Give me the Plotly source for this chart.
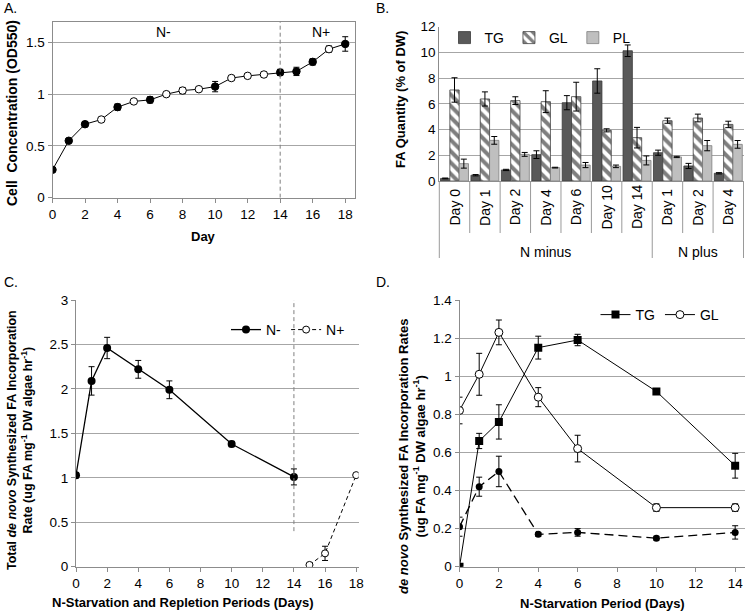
import plotly.graph_objects as go

# ---------------- Data ----------------
# Panel A: cell concentration
a_day = list(range(19))
a_od = [0.27, 0.55, 0.71, 0.755, 0.875, 0.93, 0.945, 1.0, 1.035, 1.048, 1.073,
        1.156, 1.177, 1.19, 1.21, 1.22, 1.312, 1.435, 1.485]
a_err = [0.01, 0.01, 0.025, 0.015, 0.03, 0.015, 0.03, 0.015, 0.03, 0.02, 0.05,
         0.02, 0.02, 0.025, 0.03, 0.04, 0.03, 0.03, 0.07]
a_filled = [1, 1, 1, 0, 1, 0, 1, 0, 0, 0, 1, 0, 0, 0, 1, 1, 1, 0, 1]

# Panel B: FA quantity
b_days = ["Day 0", "Day 1", "Day 2", "Day 4", "Day 6", "Day 10", "Day 14",
          "Day 1", "Day 2", "Day 4"]
b_groups = ["N minus"] * 7 + ["N plus"] * 3
b_tg = [0.2, 0.45, 0.86, 2.05, 6.09, 7.78, 10.13, 2.2, 1.17, 0.6]
b_tg_err = [0.03, 0.05, 0.05, 0.3, 0.55, 0.95, 0.45, 0.2, 0.2, 0.05]
b_gl = [7.08, 6.38, 6.25, 6.17, 6.56, 3.94, 3.37, 4.69, 4.9, 4.4]
b_gl_err = [0.95, 0.55, 0.3, 0.85, 1.12, 0.12, 0.8, 0.2, 0.3, 0.25]
b_pl = [1.35, 3.16, 2.07, 1.04, 1.24, 1.14, 1.6, 1.87, 2.75, 2.85]
b_pl_err = [0.35, 0.3, 0.15, 0.03, 0.2, 0.1, 0.35, 0.05, 0.4, 0.3]

# Panel C: total de novo FA incorporation
c_minus_day = [0, 1, 2, 4, 6, 10, 14]
c_minus = [1.03, 2.09, 2.46, 2.22, 1.99, 1.38, 1.01]
c_minus_err = [0.03, 0.16, 0.12, 0.1, 0.1, 0.03, 0.09]
c_plus_day = [15, 16, 18]
c_plus = [0.02, 0.15, 1.03]
c_plus_err = [0.01, 0.08, 0.01]

# Panel D: de novo FA incorporation by class
d_day = [0, 1, 2, 4, 6, 10, 14]
d_tg = [0.0, 0.66, 0.76, 1.15, 1.19, 0.92, 0.53]
d_tg_err = [0.0, 0.04, 0.09, 0.06, 0.03, 0.015, 0.065]
d_gl = [0.82, 1.01, 1.23, 0.89, 0.62, 0.31, 0.31]
d_gl_err = [0.07, 0.11, 0.065, 0.05, 0.07, 0.02, 0.02]
d_pl = [0.21, 0.42, 0.50, 0.17, 0.18, 0.15, 0.18]
d_pl_err = [0.05, 0.05, 0.08, 0.01, 0.02, 0.01, 0.035]

# ---------------- Layout helpers ----------------
W, H = 745, 615
FONT = "Liberation Sans, Arial, sans-serif"
GRID = "#a6a6a6"
AXL = "#8c8c8c"


def px(x):
    return x / W


def py(y):
    return 1 - y / H


def err(arr):
    return dict(type="data", array=arr, color="black", thickness=1, width=3)


fig = go.Figure()

# Panel A
fig.add_trace(go.Scatter(
    x=a_day, y=a_od, mode="lines+markers", xaxis="x", yaxis="y",
    line=dict(color="black", width=1),
    marker=dict(symbol="circle", size=7.5,
                color=["black" if f else "white" for f in a_filled],
                line=dict(color="black", width=1)),
    error_y=err(a_err), showlegend=False))

# Panel B
fig.add_trace(go.Bar(
    x=list(range(len(b_days))), y=b_tg, name="TG", xaxis="x2", yaxis="y2",
    marker=dict(color="#595959", line=dict(color="#3a3a3a", width=0.8)),
    error_y=err(b_tg_err), legend="legend"))
fig.add_trace(go.Bar(
    x=list(range(len(b_days))), y=b_gl, name="GL", xaxis="x2", yaxis="y2",
    marker=dict(color="white", line=dict(color="#404040", width=0.8),
                pattern=dict(shape="\\", fgcolor="black", bgcolor="white",
                             size=8, solidity=0.5)),
    error_y=err(b_gl_err), legend="legend"))
fig.add_trace(go.Bar(
    x=list(range(len(b_days))), y=b_pl, name="PL", xaxis="x2", yaxis="y2",
    marker=dict(color="#bfbfbf", line=dict(color="#7f7f7f", width=0.8)),
    error_y=err(b_pl_err), legend="legend"))

# Panel C
fig.add_trace(go.Scatter(
    x=c_minus_day, y=c_minus, name="N-", mode="lines+markers",
    xaxis="x3", yaxis="y3",
    line=dict(color="black", width=1.3),
    marker=dict(symbol="circle", size=8, color="black"),
    error_y=err(c_minus_err), legend="legend2"))
fig.add_trace(go.Scatter(
    x=c_plus_day, y=c_plus, name="N+", mode="lines+markers",
    xaxis="x3", yaxis="y3",
    line=dict(color="black", width=1, dash="4px,3px"),
    marker=dict(symbol="circle", size=7, color="white",
                line=dict(color="black", width=1)),
    error_y=err(c_plus_err), legend="legend2"))

# Panel D
fig.add_trace(go.Scatter(
    x=d_day, y=d_tg, name="TG", mode="lines+markers", xaxis="x4", yaxis="y4",
    line=dict(color="black", width=1),
    marker=dict(symbol="square", size=8, color="black"),
    error_y=err(d_tg_err), legend="legend3"))
fig.add_trace(go.Scatter(
    x=d_day, y=d_gl, name="GL", mode="lines+markers", xaxis="x4", yaxis="y4",
    line=dict(color="black", width=1),
    marker=dict(symbol="circle", size=8, color="white",
                line=dict(color="black", width=1)),
    error_y=err(d_gl_err), legend="legend3"))
fig.add_trace(go.Scatter(
    x=d_day, y=d_pl, mode="lines+markers", xaxis="x4", yaxis="y4",
    line=dict(color="black", width=1.3, dash="9px,5px"),
    marker=dict(symbol="circle", size=7, color="black"),
    error_y=err(d_pl_err), showlegend=False))

tickfont = dict(family=FONT, size=13.5, color="black")


def yax(domain, anchor, rng, dtick, mirror=False):
    return dict(domain=domain, anchor=anchor, range=rng, dtick=dtick,
                showgrid=True, gridcolor=GRID, gridwidth=1,
                showline=True, linecolor=AXL, linewidth=1, mirror=mirror,
                ticks="outside", ticklen=4, tickcolor=AXL,
                zeroline=False, tickfont=tickfont, automargin=False)


def xax(domain, anchor, rng, dtick, mirror=False):
    return dict(domain=domain, anchor=anchor, range=rng, dtick=dtick,
                showgrid=False, showline=True, linecolor=AXL, linewidth=1,
                mirror=mirror, ticks="outside", ticklen=4, tickcolor=AXL,
                zeroline=False, tickfont=tickfont, automargin=False)


layout = dict(
    width=W, height=H,
    margin=dict(l=0, r=0, t=0, b=0),
    paper_bgcolor="white", plot_bgcolor="white",
    font=dict(family=FONT, size=13, color="black"),
    barmode="group", bargap=0.08, bargroupgap=0.0,
    xaxis=xax([px(52.5), px(354.5)], "y", [0, 18.57], 2, mirror=True),
    yaxis=yax([py(197.7), py(21.7)], "x", [0, 1.7], 0.5, mirror=True),
    xaxis2=dict(domain=[px(439.3), px(743.5)], anchor="y2",
                range=[-0.5, len(b_days) - 0.5], showticklabels=False,
                showgrid=False, showline=True, linecolor=AXL, ticks="",
                zeroline=False, automargin=False),
    yaxis2=dict(domain=[py(181), py(26.7)], anchor="x2", range=[0, 12],
                dtick=2, showgrid=True, gridcolor=GRID, showline=True,
                linecolor=AXL, ticks="", zeroline=False, tickfont=tickfont,
                automargin=False),
    xaxis3=xax([px(76), px(358.5)], "y3", [0, 18.15], 2),
    yaxis3=yax([py(566.7), py(300)], "x3", [0, 3], 0.5),
    xaxis4=xax([px(459.5), 1.0], "y4", [0, 14.5], 2),
    yaxis4=yax([py(566.7), py(300)], "x4", [0, 1.4], 0.2),
    legend=dict(orientation="h", x=px(540), y=py(38), xanchor="center",
                yanchor="middle", bgcolor="rgba(0,0,0,0)",
                font=dict(family=FONT, size=14), itemwidth=30,
                traceorder="normal"),
    legend2=dict(orientation="h", x=px(288), y=py(330), xanchor="center",
                 yanchor="middle", bgcolor="rgba(0,0,0,0)",
                 font=dict(family=FONT, size=14), itemwidth=30),
    legend3=dict(orientation="h", x=px(660), y=py(315), xanchor="center",
                 yanchor="middle", bgcolor="rgba(0,0,0,0)",
                 font=dict(family=FONT, size=14), itemwidth=30),
)
fig.update_layout(**layout)

shapes = []
# dashed vertical separators (day 14)
shapes.append(dict(type="line", xref="x", yref="y", x0=14, x1=14, y0=0, y1=1.7,
                   line=dict(color="#7f7f7f", width=1, dash="4px,3px")))
shapes.append(dict(type="line", xref="x3", yref="y3", x0=14, x1=14, y0=0.4, y1=3,
                   line=dict(color="#7f7f7f", width=1, dash="4px,3px")))
# category separators for panel B
n = len(b_days)
for i in range(n + 1):
    group_edge = i == 0 or i == n or b_groups[i] != b_groups[i - 1]
    shapes.append(dict(type="line", xref="x2 domain", yref="paper",
                       x0=i / n, x1=i / n, y0=py(181),
                       y1=py(258) if group_edge else py(233),
                       line=dict(color="#9a9a9a", width=1)))

annotations = []
for i, d in enumerate(b_days):
    annotations.append(dict(text=d, x=i, xref="x2", y=py(207), yref="paper",
                            textangle=-90, showarrow=False,
                            xanchor="center", yanchor="middle",
                            font=dict(family=FONT, size=14)))
groups = []
for i, g in enumerate(b_groups):
    if not groups or groups[-1][0] != g:
        groups.append([g, i, i])
    else:
        groups[-1][2] = i
for g, i0, i1 in groups:
    annotations.append(dict(text=g, x=(i0 + i1) / 2, xref="x2", y=py(252),
                            yref="paper", showarrow=False,
                            font=dict(family=FONT, size=14)))

# N- / N+ labels in panel A
annotations.append(dict(text="N-", x=6.8, y=1.6, xref="x", yref="y",
                        showarrow=False, font=dict(family=FONT, size=14)))
annotations.append(dict(text="N+", x=16.5, y=1.6, xref="x", yref="y",
                        showarrow=False, font=dict(family=FONT, size=14)))

# panel letters
for t, x, y in [("A.", 2, 8), ("B.", 374, 8), ("C.", 2, 282), ("D.", 374, 282)]:
    annotations.append(dict(text=t, x=px(x), y=py(y), xref="paper", yref="paper",
                            xanchor="left", yanchor="middle", showarrow=False,
                            font=dict(family=FONT, size=14)))

bold = dict(family=FONT, size=13, color="black")
# axis titles
annotations += [
    dict(text="<b>Cell  Concentration (OD550)</b>", x=px(12), y=py(113),
         textangle=-90, font=dict(family=FONT, size=14)),
    dict(text="<b>Day</b>", x=px(203), y=py(236), font=bold),
    dict(text="<b>FA Quantity (% of DW)</b>", x=px(400), y=py(100),
         textangle=-90, font=bold),
    dict(text="<b>Total <i>de novo</i> Synthesized FA Incorporation<br>"
              "Rate (ug FA mg<sup>-1</sup> DW algae hr<sup>-1</sup>)</b>",
         x=px(20), y=py(440), textangle=-90, font=dict(family=FONT, size=12.5)),
    dict(text="<b>N-Starvation and Repletion Periods (Days)</b>", x=px(183),
         y=py(602), font=bold),
    dict(text="<b><i>de novo</i> Synthesized FA Incorporation Rates<br>"
              "(ug FA mg<sup>-1</sup> DW algae hr<sup>-1</sup>)</b>",
         x=px(412), y=py(457), textangle=-90, font=dict(family=FONT, size=13)),
    dict(text="<b>N-Starvation Period (Days)</b>", x=px(602), y=py(603),
         font=bold),
]
for a in annotations[-7:]:
    a.update(xref="paper", yref="paper", showarrow=False,
             xanchor="center", yanchor="middle")

fig.update_layout(shapes=shapes, annotations=annotations)
fig.write_html("out.html", config={"displayModeBar": False},
               post_script="document.body.style.margin='0';"
                           "document.body.style.overflow='hidden';")
